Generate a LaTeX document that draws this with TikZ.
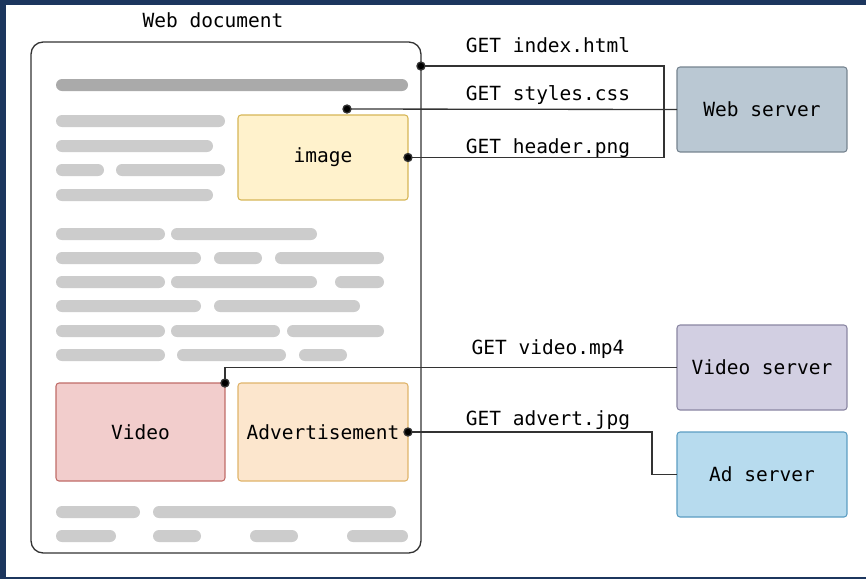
\documentclass[tikz,border=0pt]{standalone}
\usepackage{fontspec}
\setmonofont{DejaVu Sans Mono}
\usetikzlibrary{arrows.meta}
\usetikzlibrary{calc}

\definecolor{frame}{HTML}{1C365E}
\definecolor{wire}{HTML}{333333}
\definecolor{bardark}{HTML}{AAAAAA}
\definecolor{barlight}{HTML}{CCCCCC}
\definecolor{imgfill}{HTML}{FFF2CC}
\definecolor{imgline}{HTML}{D6B656}
\definecolor{vidfill}{HTML}{F2CDCC}
\definecolor{vidline}{HTML}{C06C68}
\definecolor{adfill}{HTML}{FCE6CD}
\definecolor{adline}{HTML}{E0B46A}
\definecolor{webfill}{HTML}{BAC8D3}
\definecolor{webline}{HTML}{75838F}
\definecolor{vsfill}{HTML}{D2CFE2}
\definecolor{vsline}{HTML}{8A86A2}
\definecolor{asfill}{HTML}{B7DBEE}
\definecolor{asline}{HTML}{5B9DC2}

\begin{document}
\begin{tikzpicture}[x=0.02cm,y=-0.02cm,
	every node/.style={black,font=\ttfamily\fontsize{11.1}{13}\selectfont},
	bar/.style={fill=barlight,rounded corners=0.12cm},
	part/.style={draw,line width=0.6pt,rounded corners=0.06cm,inner sep=0pt,outer sep=0pt,
		minimum width=3.4cm,minimum height=1.7cm},
	wire/.style={draw=wire,line width=0.75pt}]
	\useasboundingbox (0,0) rectangle (866,579);
	\fill[frame] (0,0) rectangle (866,579);
	\fill[white] (6,5) rectangle (866,577);

	% the page
	\node[draw=wire,line width=0.75pt,rounded corners=0.24cm,inner sep=0pt,outer sep=0pt,
		minimum width=7.8cm,minimum height=10.22cm] (doc) at (226,297.5) {};
	\node[anchor=base] (title) at (213,27) {Web document};

	% text lines
	\fill[bardark,rounded corners=0.12cm] (56,79) rectangle (408,91);
	\foreach \xa/\xb/\ya in {56/225/115, 56/213/140, 56/104/164, 116/225/164, 56/213/189,
		56/165/228, 171/317/228,
		56/201/252, 214/262/252, 275/384/252,
		56/165/276, 171/317/276, 335/384/276,
		56/201/300, 214/360/300,
		56/165/325, 171/280/325, 287/384/325,
		56/165/349, 177/286/349, 299/347/349,
		56/140/506, 153/396/506,
		56/116/530, 153/201/530, 250/298/530, 347/408/530}
		\fill[bar] (\xa,\ya) rectangle (\xb,\ya+12);

	% embedded parts
	\node[part,fill=imgfill,draw=imgline] (image) at (323,157.5) {image};
	\node[part,fill=vidfill,draw=vidline,minimum width=3.38cm,minimum height=1.96cm] (video) at (140.5,432) {Video};
	\node[part,fill=adfill,draw=adline,minimum height=1.96cm] (advert) at (323,432) {Advertisement};

	% servers
	\node[part,fill=webfill,draw=webline] (web) at (762,109.5) {Web server};
	\node[part,fill=vsfill,draw=vsline] (vserver) at (762,367.5) {Video server};
	\node[part,fill=asfill,draw=asline] (adserver) at (762,474.5) {Ad server};

	% requests
	\coordinate (idx) at ($(doc.north east)+(0,24)$);
	\coordinate (css) at (347,109);
	\draw[wire] (idx) -- ++(243,0) |- (image.east);
	\draw[wire] (css) -- (web.west);
	\draw[wire] (video.north east) |- (vserver.west);
	\draw[wire] (advert.east) -- ++(244,0) |- (adserver.west);
	\foreach \p in {idx,css,image.east,video.north east,advert.east}
		\fill[wire] (\p) circle (0.08cm);

	\node[anchor=base] (getidx) at (548,52) {GET index.html};
	\node[anchor=base] (getcss) at (548,100) {GET styles.css};
	\node[anchor=base] (getpng) at (548,153) {GET header.png};
	\node[anchor=base] (getmp4) at (548,354) {GET video.mp4};
	\node[anchor=base] (getjpg) at (548,425) {GET advert.jpg};
\end{tikzpicture}
\end{document}
